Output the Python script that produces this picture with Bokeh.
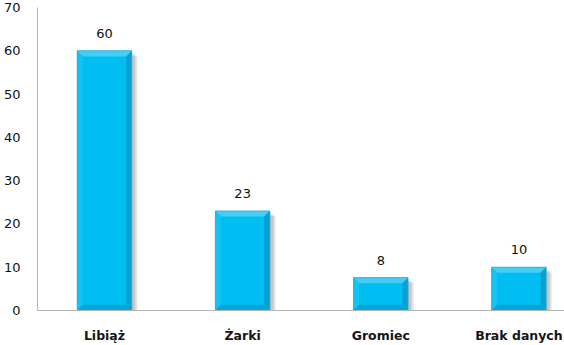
from bokeh.plotting import figure
from bokeh.models import ColumnDataSource, Range1d, FixedTicker, LabelSet
from bokeh.core.properties import value
from bokeh.embed import file_html
from bokeh.resources import INLINE

categories = ["Libiąż", "Żarki", "Gromiec", "Brak danych"]
values = [60, 23, 7.6, 10]
value_labels = ["60", "23", "8", "10"]
y_ticks = [0, 10, 20, 30, 40, 50, 60, 70]

xs = [i + 0.5 for i in range(len(categories))]
bw = 0.395
half = bw / 2
bx = 0.04   # bevel in x units
by = 1.3    # bevel in y units

p = figure(width=564, height=345, output_backend="svg", toolbar_location=None,
           x_range=Range1d(0.015, 3.83), y_range=Range1d(0, 70),
           min_border_left=37, min_border_right=0, min_border_top=7, min_border_bottom=32)
p.outline_line_color = None
p.background_fill_color = "white"
p.border_fill_color = "white"
p.grid.visible = False

# soft shadows
p.quad(left=[x - half + 0.03 for x in xs], right=[x + half + 0.04 for x in xs],
       bottom=[-0.8] * 4, top=[v - 1.2 for v in values],
       fill_color="#b0b0b0", fill_alpha=0.35, line_color=None)
p.quad(left=[x - half + 0.02 for x in xs], right=[x + half + 0.025 for x in xs],
       bottom=[-0.5] * 4, top=[v - 0.8 for v in values],
       fill_color="#909090", fill_alpha=0.35, line_color=None)

# main body
p.quad(left=[x - half for x in xs], right=[x + half for x in xs],
       bottom=[0] * 4, top=values, fill_color="#00BEF2", line_color=None)

# bevels
top_x, top_y, bot_x, bot_y, lft_x, lft_y, rgt_x, rgt_y = [], [], [], [], [], [], [], []
for x, v in zip(xs, values):
    l, r = x - half, x + half
    top_x.append([l, r, r - bx, l + bx]); top_y.append([v, v, v - by, v - by])
    bot_x.append([l, r, r - bx, l + bx]); bot_y.append([0, 0, by, by])
    lft_x.append([l, l + bx, l + bx, l]); lft_y.append([0, by, v - by, v])
    rgt_x.append([r, r - bx, r - bx, r]); rgt_y.append([0, by, v - by, v])
p.patches(top_x, top_y, fill_color="#45CDF6", line_color=None)
p.patches(lft_x, lft_y, fill_color="#14C3F4", line_color=None)
p.patches(rgt_x, rgt_y, fill_color="#0A9FD0", line_color=None)
p.patches(bot_x, bot_y, fill_color="#06A6D8", line_color=None)

# thin outline
p.quad(left=[x - half for x in xs], right=[x + half for x in xs],
       bottom=[0] * 4, top=values, fill_color=None, line_color="#3AA8CC", line_width=0.8)

src = ColumnDataSource(dict(x=xs, y=values, t=value_labels))
p.add_layout(LabelSet(x="x", y="y", text="t", source=src, text_align="center",
                      text_baseline="bottom", y_offset=13, text_font=value("DejaVu Sans"),
                      text_font_size="13px", text_color="#111111"))

p.yaxis.ticker = FixedTicker(ticks=y_ticks)
p.yaxis.major_tick_line_color = None
p.yaxis.minor_tick_line_color = None
p.yaxis.axis_line_color = "#b5b5b5"
p.yaxis.major_label_text_font = "DejaVu Sans"
p.yaxis.major_label_text_font_size = "13px"
p.yaxis.major_label_text_color = "#111111"
p.yaxis.major_label_standoff = 11

p.xaxis.ticker = FixedTicker(ticks=xs)
p.xaxis.major_label_overrides = {x: c for x, c in zip(xs, categories)}
p.xaxis.major_tick_line_color = None
p.xaxis.minor_tick_line_color = None
p.xaxis.axis_line_color = "#b5b5b5"
p.xaxis.major_label_text_font = "DejaVu Sans"
p.xaxis.major_label_text_font_size = "12.5px"
p.xaxis.major_label_text_font_style = "bold"
p.xaxis.major_label_text_color = "#161616"
p.xaxis.major_label_standoff = 11

open("out.html", "w").write(file_html(p, INLINE))
